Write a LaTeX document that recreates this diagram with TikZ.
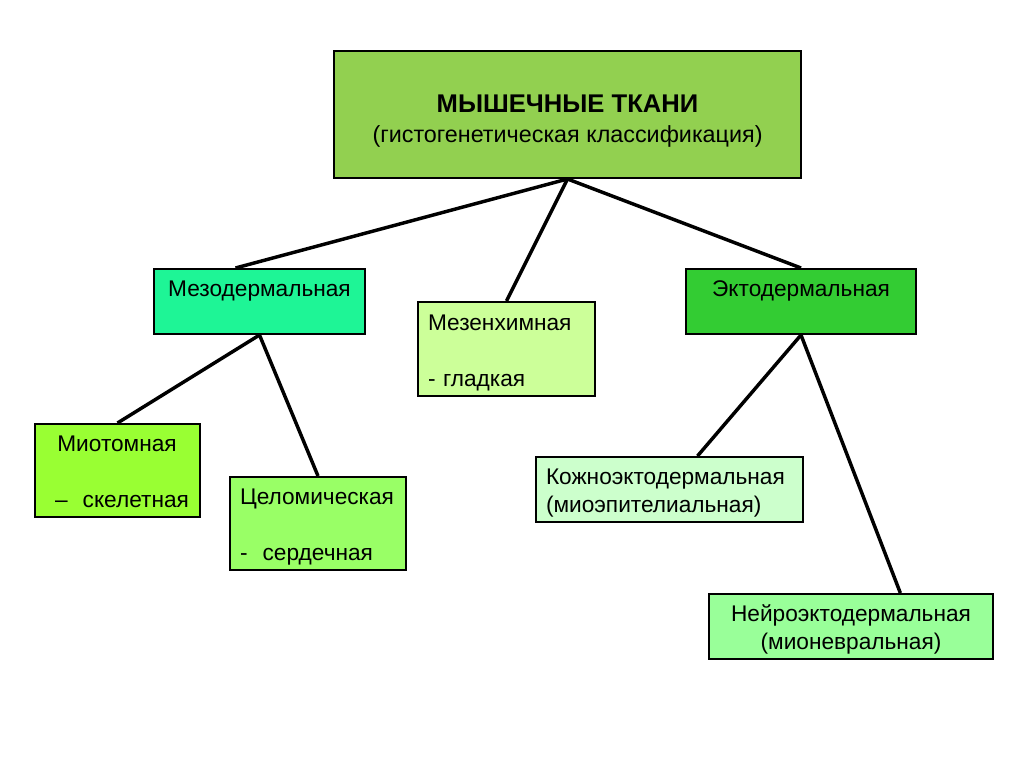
\documentclass[tikz,border=0pt]{standalone}
\usepackage{fontspec}
\setmainfont{Liberation Sans}
\usepackage{tikz}

\definecolor{cTop}{RGB}{146,208,80}
\definecolor{cMezo}{RGB}{30,245,150}
\definecolor{cMezen}{RGB}{204,255,153}
\definecolor{cEkto}{RGB}{51,204,51}
\definecolor{cMio}{RGB}{153,255,51}
\definecolor{cTselo}{RGB}{153,255,102}
\definecolor{cKozh}{RGB}{204,255,204}
\definecolor{cNeiro}{RGB}{153,255,153}

% struts: fixed height of first line, fixed depth of last line
\newcommand{\hstrutx}{\rule{0pt}{18pt}}
\newcommand{\dstrutx}{\rule[-4pt]{0pt}{4pt}}
\newcommand{\onestrutx}{\rule[-19.3pt]{0pt}{31.8pt}}

\tikzset{
  box/.style={draw=black, line width=1.5pt, rectangle, inner sep=0pt,
    font=\fontsize{17}{21}\selectfont},
  leftbox/.style={box, align=left, inner xsep=7.5pt},
  conn/.style={line width=2.6pt, black},
}

\begin{document}
\begin{tikzpicture}[x=0.75pt,y=0.75pt,yscale=-1,xscale=1]
\useasboundingbox (0,0) rectangle (1024,767);

% Top box
\node [box, fill=cTop, minimum width=350.25pt, minimum height=95.25pt, align=center] (tkani) at (567.5,114.5)
  {{\fontsize{19.2}{22}\selectfont\bfseries\rule{0pt}{24pt}МЫШЕЧНЫЕ ТКАНИ}\\[1.25pt]{\fontsize{17.5}{21}\selectfont(гистогенетическая классификация)\rule[-4.5pt]{0pt}{4.5pt}}};

% Second level
\node [box, fill=cMezo, minimum width=158.25pt, minimum height=48.75pt, align=center] (mezo) at (259.5,301.5)
  {\onestrutx Мезодермальная};
\node [leftbox, fill=cMezen, minimum height=70.5pt, text width=117.75pt] (mezen) at (506.5,349)
  {\hstrutx Мезенхимная\\[21pt]- гладкая\dstrutx};
\node [box, fill=cEkto, minimum width=172.5pt, minimum height=48.75pt, align=center] (ekto) at (801,301.5)
  {\onestrutx Эктодермальная};

% Third level
\node [leftbox, fill=cMio, minimum height=69.75pt, text width=108.75pt] (mio) at (117.5,470.5)
  {\hstrutx\hspace{9.25pt}Миотомная\\[21pt]\hspace{7.5pt}–\ \ скелетная\dstrutx};
\node [leftbox, fill=cTselo, minimum height=69.75pt, text width=117pt] (tselo) at (318,523.5)
  {\hstrutx Целомическая\\[21pt]-\ \ сердечная\dstrutx};
\node [leftbox, fill=cKozh, minimum height=48.75pt, text width=185.25pt] (kozh) at (669.5,489.5)
  {\hstrutx Кожноэктодермальная\\(миоэпителиальная)\dstrutx};
\node [box, fill=cNeiro, minimum width=213pt, minimum height=48.75pt, align=center] (neiro) at (851,626.5)
  {\hstrutx Нейроэктодермальная\\(мионевральная)\dstrutx};

% Connectors
\draw [conn] (tkani.south) -- ([xshift=-18pt]mezo.north);
\draw [conn] (tkani.south) -- (mezen.north);
\draw [conn] (tkani.south) -- (ekto.north);
\draw [conn] (mezo.south) -- (mio.north);
\draw [conn] (mezo.south) -- (tselo.north);
\draw [conn] (ekto.south) -- ([xshift=21pt]kozh.north);
\draw [conn] (ekto.south) -- ([xshift=37pt]neiro.north);

\end{tikzpicture}
\end{document}
